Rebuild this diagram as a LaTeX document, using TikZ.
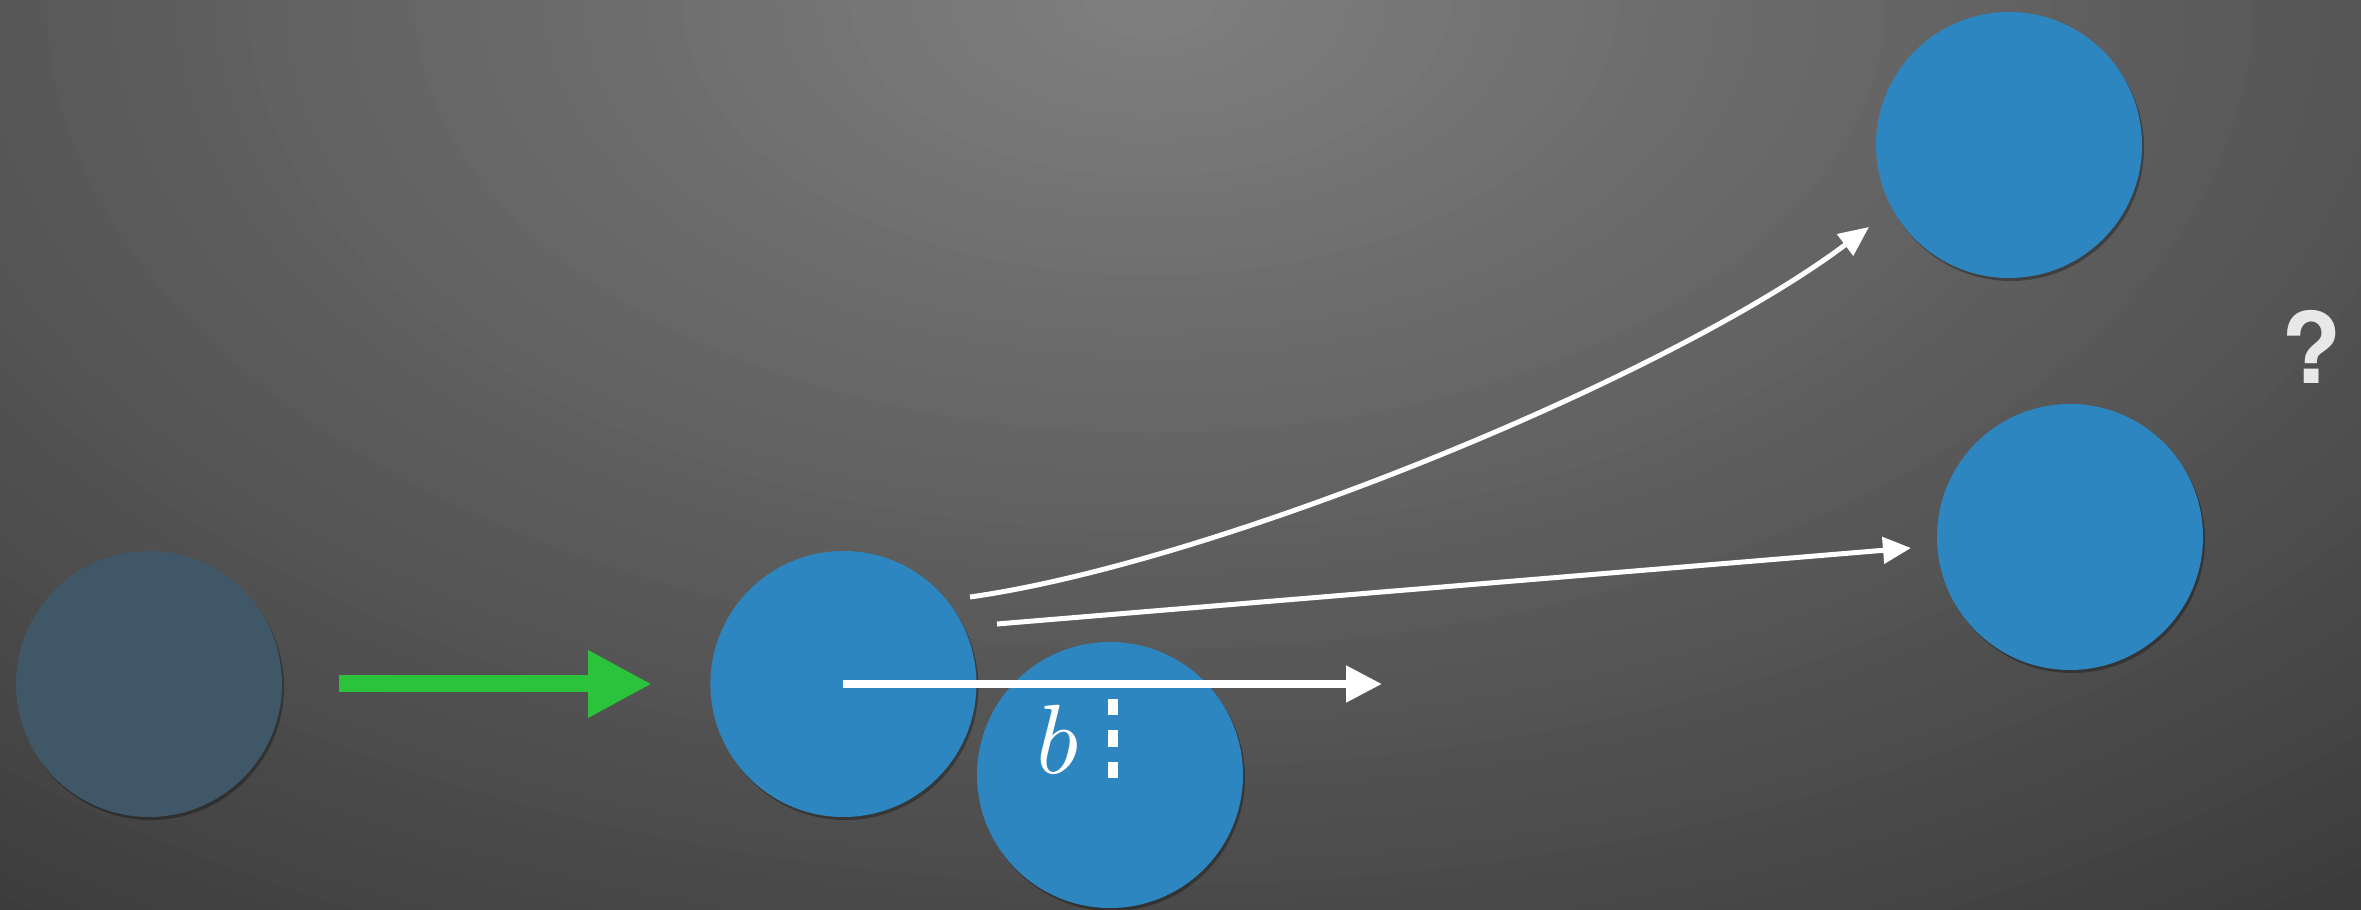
\documentclass[tikz,border=0pt]{standalone}
\usepackage{fontspec}
\setsansfont{TeX Gyre Heros}
\usetikzlibrary{arrows.meta, positioning, shadows}
\definecolor{ballblue}{RGB}{46,134,193}
\definecolor{fadedblue}{RGB}{63,87,102}
\definecolor{pushgreen}{RGB}{43,194,60}
\definecolor{bglight}{RGB}{128,128,128}
\definecolor{bgdark}{RGB}{57,57,57}

\begin{document}
\begin{tikzpicture}[
    node distance=0.6cm,
    ball/.style={circle, fill=ballblue, minimum size=2.66cm, inner sep=0pt, drop shadow={shadow xshift=0.02cm, shadow yshift=-0.03cm, opacity=0.3, fill=black}},
    fadedball/.style={ball, fill=fadedblue},
    motion/.style={draw=white, line width=0.05cm, -{Triangle[length=0.28cm, width=0.26cm]}}
]
\useasboundingbox (0,0) rectangle (23.61,9.09);
% backdrop
\begin{scope}
  \clip (0,0) rectangle (23.61,9.09);
  \fill[bgdark] (0,0) rectangle (23.61,9.09);
  \foreach \k in {1,...,60} {
    \pgfmathsetmacro\ry{12*(1-\k/61)}
    \pgfmathsetmacro\mix{100*\k/61}
    \fill[bglight!\mix!bgdark] (11.5,9.09) ellipse [x radius=1.7*\ry, y radius=\ry];
  }
\end{scope}

% balls
\node[fadedball] (ghost) at (1.49,2.25) {};
\node[ball, right=4.27cm of ghost] (mid) {};
\node[ball] (lower) at (11.10,1.34) {};
\node[ball] (upper) at (20.09,7.64) {};
\node[ball] (side) at (20.70,3.72) {};

% push
\coordinate (push start) at (3.39,2.25);
\coordinate (push end) at (6.52,2.25);
\draw[pushgreen, line width=0.17cm, -{Triangle[length=0.64cm, width=0.63cm]}] (push start) -- (push end);

% possible paths
\coordinate (straight end) at (13.82,2.25);
\draw[motion, line width=0.08cm, -{Triangle[length=0.36cm, width=0.35cm]}] (mid.center) -- (straight end);
\coordinate (curve start) at (9.70,3.12);
\coordinate (curve end) at (18.69,6.82);
\draw[motion, -{Triangle[length=0.30cm, width=0.26cm]}] (curve start) .. controls (12.18,3.47) and (16.69,5.32) .. (curve end);
\coordinate (glance start) at (9.97,2.85);
\coordinate (glance end) at (19.11,3.61);
\draw[motion] (glance start) -- (glance end);

% offset
\node[white, scale=2.8] (blabel) at (10.58,1.70) {$b$};
\coordinate (gap top) at (11.13,2.10);
\coordinate (gap bottom) at (11.13,1.31);
\draw[white, line width=0.1cm, dash pattern=on 0.16cm off 0.155cm] (gap top) -- (gap bottom);

\node[text=white!91!black, font={\sffamily\bfseries\fontsize{28}{30}\selectfont}] (query) at (23.12,5.62) {?};
\end{tikzpicture}
\end{document}
